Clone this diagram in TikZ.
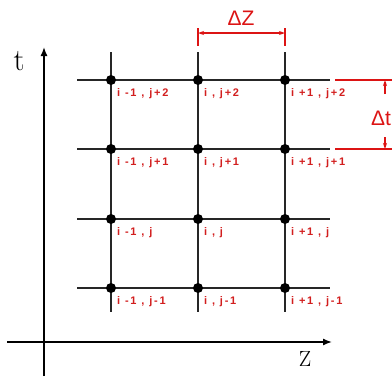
\documentclass[tikz,border=0pt]{standalone}
\usepackage{fontspec}
\setmainfont{Latin Modern Roman}
\newfontfamily\lblfont[LetterSpace=16]{Liberation Sans}
\newfontfamily\dimfont{Liberation Sans}
\usetikzlibrary{arrows.meta}
\definecolor{dimred}{RGB}{220,20,20}
\definecolor{lblred}{RGB}{210,30,30}
\tikzset{
  gridline/.style={line width=1.4pt, black!85},
  axisline/.style={line width=1.4pt, black, -{Latex[length=9pt,width=7pt]}},
  dot/.style={circle, fill=black, inner sep=0pt, minimum size=10pt},
  lbl/.style={anchor=north west, inner sep=0pt, text=lblred, font=\lblfont\bfseries\fontsize{11}{12}\selectfont},
  dimline/.style={line width=1.1pt, dimred},
  dimtext/.style={text=dimred, font=\dimfont\fontsize{21}{22}\selectfont, inner sep=0pt},
}
\begin{document}
\begin{tikzpicture}[x=1pt,y=-1pt]
\useasboundingbox (0,0) rectangle (392,376);
% axes
\coordinate (ybot) at (44,376);
\coordinate (ytop) at (44,47);
\coordinate (xl) at (7,342);
\coordinate (xr) at (332,342);
\draw[axisline] (ybot) -- (ytop);
\draw[axisline] (xl) -- (xr);
\node[font=\fontsize{31}{32}\selectfont, inner sep=0pt] (tl) at (19,61) {t};
\node[font=\fontsize{22}{24}\selectfont, inner sep=0pt] (zl) at (305,359) {Z};
% grid
\foreach \c/\x in {0/111,1/198,2/285}{
  \coordinate (vt\c) at (\x,52);
  \coordinate (vb\c) at (\x,312);
  \draw[gridline] (vt\c) -- (vb\c);
}
\foreach \r/\y in {0/80,1/149,2/219,3/288}{
  \coordinate (hl\r) at (77,\y);
  \coordinate (hr\r) at (330,\y);
  \draw[gridline] (hl\r) -- (hr\r);
}
% dots and labels
\foreach \c/\x/\ci in {0/111/{i -1 , },1/198/{i , },2/285/{i +1 , }}{
  \foreach \r/\y/\rj in {0/80/{j+2},1/149/{j+1},2/219/{j},3/288/{j-1}}{
    \node[dot] (d\c\r) at (\x,\y) {};
    \node[lbl] (l\c\r) at (\x+6,\y+8) {\ci\rj};
  }
}
% Delta Z dimension
\coordinate (zt1) at (198,28);
\coordinate (zb1) at (198,46);
\coordinate (zt2) at (285,28);
\coordinate (zb2) at (285,46);
\coordinate (za1) at (198,33);
\coordinate (za2) at (285,33);
\draw[dimline] (zt1) -- (zb1);
\draw[dimline] (zt2) -- (zb2);
\draw[dimline, {Stealth[length=6pt,width=4pt]}-{Stealth[length=6pt,width=4pt]}] (za1) -- (za2);
\node[dimtext] (dz) at (241,18) {ΔZ};
% Delta t dimension
\coordinate (ta1) at (335,80);
\coordinate (ta2) at (392,80);
\coordinate (tb1) at (335,149);
\coordinate (tb2) at (392,149);
\draw[dimline] (ta1) -- (ta2);
\draw[dimline] (tb1) -- (tb2);
\coordinate (tu1) at (385,94);
\coordinate (tu2) at (385,80);
\coordinate (tw1) at (385,137);
\coordinate (tw2) at (385,149);
\draw[dimline, -{Stealth[length=6pt,width=4pt]}] (tu1) -- (tu2);
\draw[dimline, -{Stealth[length=6pt,width=4pt]}] (tw1) -- (tw2);
\node[dimtext, anchor=west] (dt) at (371,118) {Δt};
\end{tikzpicture}
\end{document}
